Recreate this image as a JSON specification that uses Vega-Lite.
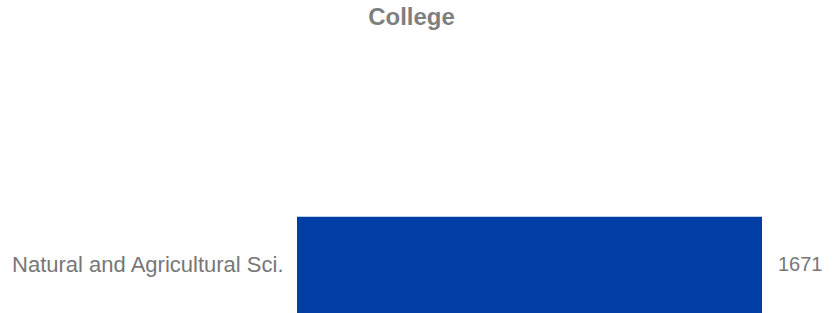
{
  "$schema": "https://vega.github.io/schema/vega-lite/v6.json",
  "autosize": "none",
  "width": 465,
  "height": 273,
  "padding": {"left": 297, "top": 40, "right": 71, "bottom": 0},
  "background": "white",
  "title": {
    "text": "College",
    "font": "Liberation Sans",
    "fontSize": 24,
    "fontWeight": "bold",
    "color": "#7f7f7f",
    "anchor": "middle",
    "frame": "group",
    "dx": -118,
    "offset": 10
  },
  "data": {"values": [{"college": "Natural and Agricultural Sci.", "count": 1671}]},
  "encoding": {
    "y": {
      "field": "college",
      "type": "nominal",
      "title": null,
      "scale": {"paddingInner": 0, "paddingOuter": 0.92, "align": 1},
      "axis": {
        "domain": false,
        "ticks": false,
        "labelFont": "Liberation Sans",
        "labelFontSize": 22,
        "labelColor": "#777777",
        "labelPadding": 14,
        "labelLimit": 400
      }
    },
    "x": {
      "field": "count",
      "type": "quantitative",
      "scale": {"domain": [0, 1671], "nice": false},
      "axis": null
    }
  },
  "layer": [
    {"mark": {"type": "bar", "color": "#003da5"}},
    {
      "mark": {"type": "text", "align": "left", "dx": 16, "font": "Liberation Sans", "fontSize": 20, "color": "#777777", "clip": false},
      "encoding": {"text": {"field": "count", "type": "quantitative"}}
    }
  ],
  "config": {"view": {"stroke": null}}
}
